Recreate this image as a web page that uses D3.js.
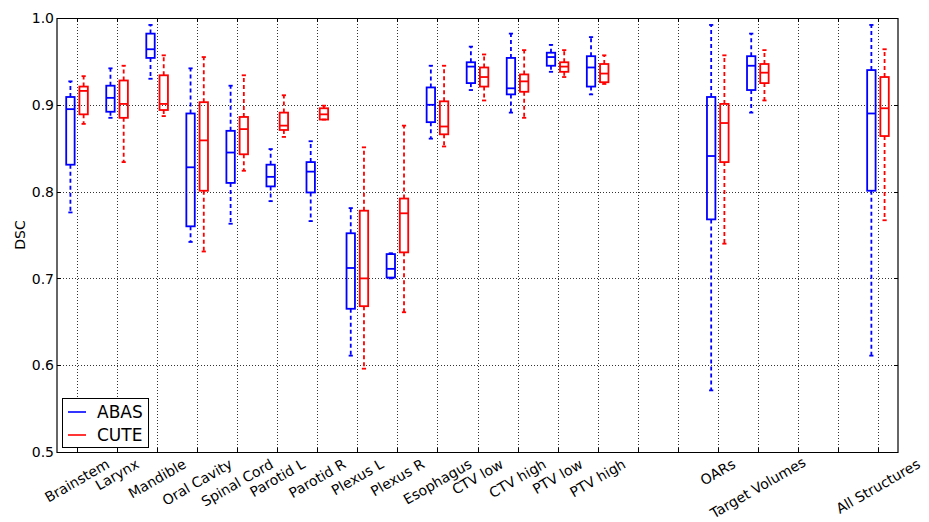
<!DOCTYPE html>
<html>
<head>
<meta charset="utf-8">
<script src="https://cdn.jsdelivr.net/npm/d3@7"></script>
<style>
  html, body { margin: 0; padding: 0; background: #fff; }
  svg { display: block; font-family: "DejaVu Sans", sans-serif; }
</style>
</head>
<body>
<svg id="chart" width="929" height="522"></svg>
<script>
// ---- Data ----
const categories = ["Brainstem","Larynx","Mandible","Oral Cavity","Spinal Cord","Parotid L","Parotid R",
  "Plexus L","Plexus R","Esophagus","CTV low","CTV high","PTV low","PTV high","","","OARs",
  "Target Volumes","","","All Structures"];

const seriesNames = ["ABAS", "CUTE"];
const seriesColors = ["#0000ff", "#ff0000"];

// each entry: [lower whisker, Q1, median, Q3, upper whisker]; null = no box
const abasStats = [
  [0.776,0.831,0.895,0.909,0.927],
  [0.885,0.892,0.908,0.922,0.942],
  [0.930,0.954,0.964,0.982,0.992],
  [0.742,0.760,0.828,0.890,0.942],
  [0.763,0.810,0.845,0.870,0.922],
  [0.789,0.806,0.817,0.831,0.849],
  [0.766,0.799,0.823,0.834,0.858],
  [0.611,0.665,0.712,0.752,0.781],
  [0.700,0.701,0.711,0.728,0.729],
  [0.861,0.880,0.900,0.920,0.945],
  [0.917,0.925,0.944,0.949,0.967],
  [0.891,0.912,0.919,0.954,0.982],
  [0.938,0.945,0.955,0.960,0.969],
  [0.912,0.921,0.943,0.956,0.978],
  null, null,
  [0.571,0.768,0.841,0.909,0.992],
  [0.891,0.917,0.945,0.956,0.982],
  null, null,
  [0.611,0.801,0.890,0.940,0.992]
];

const cuteStats = [
  [0.878,0.889,0.916,0.921,0.933],
  [0.834,0.885,0.901,0.928,0.945],
  [0.887,0.894,0.901,0.934,0.957],
  [0.731,0.801,0.859,0.903,0.955],
  [0.824,0.843,0.872,0.886,0.934],
  [0.863,0.871,0.876,0.891,0.911],
  [0.883,0.883,0.889,0.896,0.899],
  [0.596,0.668,0.700,0.778,0.851],
  [0.661,0.730,0.775,0.792,0.876],
  [0.852,0.866,0.875,0.904,0.945],
  [0.905,0.921,0.932,0.943,0.958],
  [0.885,0.915,0.927,0.935,0.963],
  [0.932,0.938,0.944,0.949,0.963],
  [0.924,0.926,0.936,0.947,0.957],
  null, null,
  [0.740,0.834,0.879,0.901,0.957],
  [0.905,0.925,0.937,0.947,0.963],
  null, null,
  [0.767,0.864,0.896,0.932,0.964]
];

const yTicks = [0.5, 0.6, 0.7, 0.8, 0.9, 1.0];
const yLabel = "DSC";

// ---- Layout ----
const mLeft = 57, mRight = 898, mTop = 18, mBottom = 452;
const svg = d3.select("#chart");

const x = d3.scaleLinear().domain([0.5, categories.length + 0.5]).range([mLeft, mRight]);
const y = d3.scaleLinear().domain([0.5, 1.0]).range([mBottom, mTop]);
const xTickVals = d3.range(1, categories.length + 1);
const lw = 1.8;

// grid
const grid = svg.append("g");
grid.selectAll("line.vg").data(xTickVals).join("line")
  .attr("x1", d => Math.round(x(d)) + 0.5).attr("x2", d => Math.round(x(d)) + 0.5)
  .attr("y1", mTop).attr("y2", mBottom)
  .attr("stroke", "#333").attr("stroke-width", 1).attr("stroke-dasharray", "1,2");
grid.selectAll("line.hg").data(yTicks.slice(1, -1)).join("line")
  .attr("x1", mLeft).attr("x2", mRight)
  .attr("y1", d => Math.round(y(d)) + 0.5).attr("y2", d => Math.round(y(d)) + 0.5)
  .attr("stroke", "#333").attr("stroke-width", 1).attr("stroke-dasharray", "1,2");

// boxes
const offsets = [-0.165, 0.165];
const boxW = 0.21;
const allStats = [abasStats, cuteStats];
allStats.forEach((stats, si) => {
  const col = seriesColors[si];
  const g = svg.append("g");
  stats.forEach((s, i) => {
    if (!s) return;
    const pos = i + 1 + offsets[si];
    const cx = x(pos);
    const hw = (x(pos + boxW / 2) - x(pos - boxW / 2)) / 2;
    const [lo, q1, med, q3, hi] = s;
    // whiskers
    g.append("line").attr("x1", cx).attr("x2", cx).attr("y1", y(q3)).attr("y2", y(hi))
      .attr("stroke", col).attr("stroke-width", lw).attr("stroke-dasharray", "4,3");
    g.append("line").attr("x1", cx).attr("x2", cx).attr("y1", y(q1)).attr("y2", y(lo))
      .attr("stroke", col).attr("stroke-width", lw).attr("stroke-dasharray", "4,3");
    // caps
    [lo, hi].forEach(v => {
      g.append("line").attr("x1", cx - hw / 2).attr("x2", cx + hw / 2)
        .attr("y1", y(v)).attr("y2", y(v))
        .attr("stroke", col).attr("stroke-width", lw);
    });
    // box
    g.append("rect").attr("x", cx - hw).attr("width", 2 * hw)
      .attr("y", y(q3)).attr("height", y(q1) - y(q3))
      .attr("fill", "none").attr("stroke", col).attr("stroke-width", lw);
    // median
    g.append("line").attr("x1", cx - hw).attr("x2", cx + hw)
      .attr("y1", y(med)).attr("y2", y(med))
      .attr("stroke", col).attr("stroke-width", lw);
  });
});

// spines
svg.append("line").attr("x1", mLeft).attr("x2", mRight).attr("y1", mTop + 0.5).attr("y2", mTop + 0.5)
  .attr("stroke", "#000").attr("stroke-width", 1.2);
svg.append("line").attr("x1", mLeft).attr("x2", mRight).attr("y1", mBottom + 0.5).attr("y2", mBottom + 0.5)
  .attr("stroke", "#000").attr("stroke-width", 1.2);
svg.append("line").attr("x1", mLeft).attr("x2", mLeft).attr("y1", mTop).attr("y2", mBottom + 1)
  .attr("stroke", "#666").attr("stroke-width", 2);
svg.append("line").attr("x1", mRight).attr("x2", mRight).attr("y1", mTop).attr("y2", mBottom + 1)
  .attr("stroke", "#666").attr("stroke-width", 2);

// tick marks (inside, all four sides)
const tk = svg.append("g").attr("stroke", "#000").attr("stroke-width", 1);
xTickVals.forEach(v => {
  const xx = Math.round(x(v)) + 0.5;
  tk.append("line").attr("x1", xx).attr("x2", xx).attr("y1", mBottom).attr("y2", mBottom - 4);
  tk.append("line").attr("x1", xx).attr("x2", xx).attr("y1", mTop).attr("y2", mTop + 4);
});
yTicks.forEach(v => {
  const yy = Math.round(y(v)) + 0.5;
  tk.append("line").attr("x1", mLeft).attr("x2", mLeft + 4).attr("y1", yy).attr("y2", yy);
  tk.append("line").attr("x1", mRight).attr("x2", mRight - 4).attr("y1", yy).attr("y2", yy);
});

// y tick labels
svg.append("g").selectAll("text").data(yTicks).join("text")
  .attr("x", mLeft - 3).attr("y", d => y(d) + 5.1)
  .attr("text-anchor", "end").attr("font-size", 14).attr("fill", "#000")
  .text(d => d.toFixed(1));

// y axis label
svg.append("text")
  .attr("transform", `translate(25,${(mTop + mBottom) / 2}) rotate(-90)`)
  .attr("text-anchor", "middle").attr("font-size", 14).attr("fill", "#000")
  .text(yLabel);

// x tick labels rotated 30deg, bbox centred on tick, top at 457 (kept inside the picture)
const xl = svg.append("g");
categories.forEach((c, i) => {
  if (!c) return;
  const t = xl.append("text").attr("font-size", 14).attr("fill", "#000")
    .attr("text-anchor", "middle").attr("dominant-baseline", "central").text(c);
  const w = t.node().getComputedTextLength();
  const h = 13;
  const half = (w * 0.5 + h * 0.866) / 2;
  const cy = Math.min(457 + half, 520 - half);
  t.attr("transform", `translate(${x(i + 1)},${cy}) rotate(-30)`);
});

// legend
const lg = svg.append("g");
lg.append("rect").attr("x", 62.5).attr("y", 398.5).attr("width", 86).attr("height", 49)
  .attr("fill", "#fff").attr("stroke", "#000").attr("stroke-width", 1);
seriesNames.forEach((n, i) => {
  const ly = 412 + i * 23;
  lg.append("line").attr("x1", 68).attr("x2", 86).attr("y1", ly).attr("y2", ly)
    .attr("stroke", seriesColors[i]).attr("stroke-width", 1.6);
  lg.append("text").attr("x", 97).attr("y", ly + 5.5).attr("font-size", 17).attr("fill", "#000").text(n);
});
</script>
</body>
</html>
